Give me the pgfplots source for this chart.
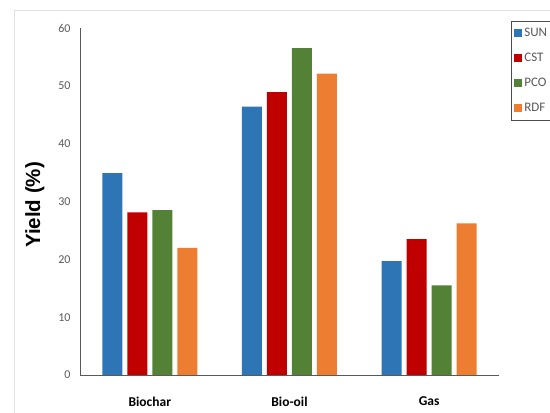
\documentclass[border=0pt]{standalone}
\usepackage{pgfplots}
\pgfplotsset{compat=1.18}
\usepackage{fontspec}
\setmainfont{Carlito}
\newfontfamily\arialb{Liberation Sans}
\definecolor{cSUN}{HTML}{2E75B6}
\definecolor{cCST}{HTML}{C00000}
\definecolor{cPCO}{HTML}{538135}
\definecolor{cRDF}{HTML}{ED7D31}
\definecolor{axgray}{HTML}{595959}
\begin{document}
\begin{tikzpicture}[x=1pt,y=1pt]
\useasboundingbox (0,0) rectangle (550,413);
\fill[white] (0,0) rectangle (550,413);
\draw[black!12, line width=1pt] (14,-5) rectangle (560,402);
\begin{axis}[
  at={(80pt,38pt)}, anchor=south west,
  scale only axis, width=419pt, height=347pt,
  ymin=0, ymax=60, xmin=-0.5, xmax=2.5,
  ybar=5pt, bar width=20pt,
  axis x line=bottom, axis y line=left,
  axis line style={axgray, line width=0.9pt, -},
  xtick={0,1,2}, xticklabels={Biochar,Bio-oil,Gas},
  ytick={0,10,...,60},
  major tick length=0pt,
  xticklabel style={font=\fontsize{13.5}{16}\selectfont\bfseries, text=black, yshift=-18pt},
  yticklabel style={font=\fontsize{12}{14}\selectfont, text=axgray, xshift=-6pt},
  /pgf/number format/assume math mode=true,
  ylabel={Yield (\%)},
  every axis y label/.style={at={(axis description cs:-0.108,0.49)}, rotate=90, anchor=center, font=\fontsize{20.5}{22}\selectfont\arialb\bfseries},
  legend cell align=left,
  legend style={at={(axis description cs:1.0286,1.02)}, anchor=north west,
    draw=black!70, line width=0.8pt, font=\fontsize{13}{15}\selectfont, text=axgray,
    row sep=11pt, inner xsep=3pt, inner ysep=5pt},
  legend image code/.code={\fill[#1] (0pt,-4pt) rectangle (8pt,4pt);},
]
\addplot[fill=cSUN, draw=none] coordinates {(0,34.9) (1,46.4) (2,19.7)};
\addplot[fill=cCST, draw=none] coordinates {(0,28.1) (1,48.9) (2,23.5)};
\addplot[fill=cPCO, draw=none] coordinates {(0,28.5) (1,56.5) (2,15.5)};
\addplot[fill=cRDF, draw=none] coordinates {(0,22.0) (1,52.1) (2,26.2)};
\legend{SUN,CST,PCO,RDF}
\end{axis}
\end{tikzpicture}
\end{document}
